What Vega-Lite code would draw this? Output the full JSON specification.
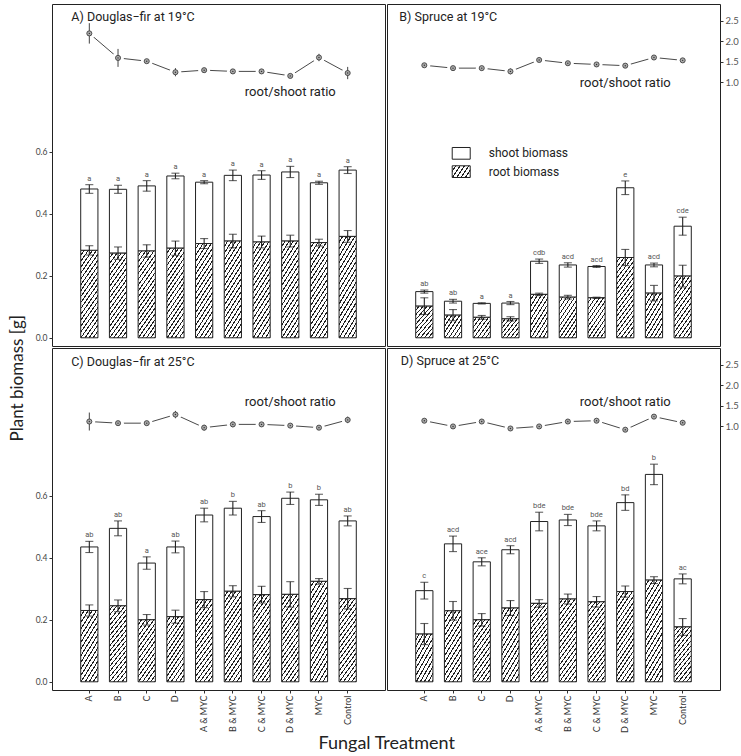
{
"$schema": "https://vega.github.io/schema/vega-lite/v6.json",
"padding": {"left": 8, "top": 3, "right": 0, "bottom": 0},
"title": {"text": "Plant biomass [g]", "orient": "left", "anchor": "middle", "fontSize": 17, "fontWeight": "normal", "color": "#222", "offset": 8},
"datasets": {
"bio": [
{"panel":"A","trt":"A","root":0.282,"root_se":0.015,"total":0.480,"total_se":0.014,"ratio":2.19,"ratio_se":0.25,"letter":"a"},
{"panel":"A","trt":"B","root":0.273,"root_se":0.020,"total":0.479,"total_se":0.013,"ratio":1.59,"ratio_se":0.22,"letter":"a"},
{"panel":"A","trt":"C","root":0.280,"root_se":0.020,"total":0.490,"total_se":0.017,"ratio":1.51,"ratio_se":0.03,"letter":"a"},
{"panel":"A","trt":"D","root":0.289,"root_se":0.023,"total":0.522,"total_se":0.009,"ratio":1.24,"ratio_se":0.10,"letter":"a"},
{"panel":"A","trt":"A & MYC","root":0.304,"root_se":0.016,"total":0.502,"total_se":0.005,"ratio":1.29,"ratio_se":0.03,"letter":"a"},
{"panel":"A","trt":"B & MYC","root":0.312,"root_se":0.022,"total":0.524,"total_se":0.017,"ratio":1.26,"ratio_se":0.03,"letter":"a"},
{"panel":"A","trt":"C & MYC","root":0.309,"root_se":0.019,"total":0.525,"total_se":0.014,"ratio":1.26,"ratio_se":0.03,"letter":"a"},
{"panel":"A","trt":"D & MYC","root":0.312,"root_se":0.019,"total":0.535,"total_se":0.018,"ratio":1.15,"ratio_se":0.04,"letter":"a"},
{"panel":"A","trt":"MYC","root":0.307,"root_se":0.011,"total":0.500,"total_se":0.005,"ratio":1.60,"ratio_se":0.09,"letter":"a"},
{"panel":"A","trt":"Control","root":0.327,"root_se":0.019,"total":0.541,"total_se":0.011,"ratio":1.22,"ratio_se":0.15,"letter":"a"},
{"panel":"B","trt":"A","root":0.102,"root_se":0.027,"total":0.149,"total_se":0.005,"ratio":1.41,"ratio_se":0.04,"letter":"ab"},
{"panel":"B","trt":"B","root":0.073,"root_se":0.018,"total":0.118,"total_se":0.006,"ratio":1.34,"ratio_se":0.05,"letter":"ab"},
{"panel":"B","trt":"C","root":0.066,"root_se":0.006,"total":0.111,"total_se":0.002,"ratio":1.34,"ratio_se":0.05,"letter":"a"},
{"panel":"B","trt":"D","root":0.061,"root_se":0.007,"total":0.112,"total_se":0.005,"ratio":1.26,"ratio_se":0.07,"letter":"a"},
{"panel":"B","trt":"A & MYC","root":0.140,"root_se":0.004,"total":0.247,"total_se":0.007,"ratio":1.54,"ratio_se":0.05,"letter":"cdb"},
{"panel":"B","trt":"B & MYC","root":0.131,"root_se":0.006,"total":0.235,"total_se":0.007,"ratio":1.46,"ratio_se":0.04,"letter":"acd"},
{"panel":"B","trt":"C & MYC","root":0.129,"root_se":0.002,"total":0.230,"total_se":0.003,"ratio":1.43,"ratio_se":0.04,"letter":"acd"},
{"panel":"B","trt":"D & MYC","root":0.259,"root_se":0.026,"total":0.484,"total_se":0.022,"ratio":1.40,"ratio_se":0.04,"letter":"e"},
{"panel":"B","trt":"MYC","root":0.144,"root_se":0.025,"total":0.235,"total_se":0.006,"ratio":1.60,"ratio_se":0.05,"letter":"acd"},
{"panel":"B","trt":"Control","root":0.199,"root_se":0.035,"total":0.360,"total_se":0.029,"ratio":1.53,"ratio_se":0.04,"letter":"cde"},
{"panel":"C","trt":"A","root":0.230,"root_se":0.018,"total":0.435,"total_se":0.018,"ratio":1.11,"ratio_se":0.22,"letter":"ab"},
{"panel":"C","trt":"B","root":0.245,"root_se":0.019,"total":0.495,"total_se":0.024,"ratio":1.07,"ratio_se":0.05,"letter":"ab"},
{"panel":"C","trt":"C","root":0.200,"root_se":0.017,"total":0.383,"total_se":0.020,"ratio":1.07,"ratio_se":0.04,"letter":"a"},
{"panel":"C","trt":"D","root":0.210,"root_se":0.021,"total":0.435,"total_se":0.019,"ratio":1.28,"ratio_se":0.09,"letter":"ab"},
{"panel":"C","trt":"A & MYC","root":0.265,"root_se":0.026,"total":0.538,"total_se":0.022,"ratio":0.96,"ratio_se":0.07,"letter":"ab"},
{"panel":"C","trt":"B & MYC","root":0.292,"root_se":0.018,"total":0.560,"total_se":0.022,"ratio":1.04,"ratio_se":0.07,"letter":"b"},
{"panel":"C","trt":"C & MYC","root":0.281,"root_se":0.027,"total":0.533,"total_se":0.019,"ratio":1.04,"ratio_se":0.05,"letter":"ab"},
{"panel":"C","trt":"D & MYC","root":0.282,"root_se":0.041,"total":0.592,"total_se":0.020,"ratio":1.01,"ratio_se":0.05,"letter":"b"},
{"panel":"C","trt":"MYC","root":0.324,"root_se":0.009,"total":0.587,"total_se":0.018,"ratio":0.96,"ratio_se":0.04,"letter":"b"},
{"panel":"C","trt":"Control","root":0.268,"root_se":0.033,"total":0.519,"total_se":0.016,"ratio":1.15,"ratio_se":0.08,"letter":"ab"},
{"panel":"D","trt":"A","root":0.154,"root_se":0.034,"total":0.294,"total_se":0.027,"ratio":1.13,"ratio_se":0.05,"letter":"c"},
{"panel":"D","trt":"B","root":0.229,"root_se":0.030,"total":0.445,"total_se":0.025,"ratio":0.99,"ratio_se":0.05,"letter":"acd"},
{"panel":"D","trt":"C","root":0.200,"root_se":0.020,"total":0.387,"total_se":0.013,"ratio":1.11,"ratio_se":0.06,"letter":"ace"},
{"panel":"D","trt":"D","root":0.238,"root_se":0.024,"total":0.426,"total_se":0.013,"ratio":0.94,"ratio_se":0.05,"letter":"acd"},
{"panel":"D","trt":"A & MYC","root":0.253,"root_se":0.012,"total":0.517,"total_se":0.030,"ratio":0.99,"ratio_se":0.05,"letter":"bde"},
{"panel":"D","trt":"B & MYC","root":0.267,"root_se":0.016,"total":0.522,"total_se":0.018,"ratio":1.11,"ratio_se":0.05,"letter":"bde"},
{"panel":"D","trt":"C & MYC","root":0.258,"root_se":0.017,"total":0.503,"total_se":0.016,"ratio":1.13,"ratio_se":0.05,"letter":"bde"},
{"panel":"D","trt":"D & MYC","root":0.291,"root_se":0.018,"total":0.578,"total_se":0.025,"ratio":0.91,"ratio_se":0.05,"letter":"bd"},
{"panel":"D","trt":"MYC","root":0.328,"root_se":0.011,"total":0.669,"total_se":0.033,"ratio":1.23,"ratio_se":0.05,"letter":"b"},
{"panel":"D","trt":"Control","root":0.177,"root_se":0.027,"total":0.332,"total_se":0.016,"ratio":1.08,"ratio_se":0.05,"letter":"ac"}
]
},
"config": {
"font": "Lato",
"view": {"stroke": "#222", "strokeWidth": 1},
"text": {"font": "Roboto", "fontWeight": "normal"},
"axis": {"labelColor": "#444", "tickColor": "#333", "labelFontSize": 9, "grid": false, "domain": false, "tickSize": 3},
"style": {
"h1": {"color": {"gradient":"linear","x1":0,"y1":0,"x2":1.069,"y2":0.92,"stops":[
{"offset":0,"color":"#fff"},{"offset":0.0875,"color":"#fff"},{"offset":0.0875,"color":"#222"},{"offset":0.125,"color":"#222"},
{"offset":0.125,"color":"#fff"},{"offset":0.2125,"color":"#fff"},{"offset":0.2125,"color":"#222"},{"offset":0.25,"color":"#222"},
{"offset":0.25,"color":"#fff"},{"offset":0.3375,"color":"#fff"},{"offset":0.3375,"color":"#222"},{"offset":0.375,"color":"#222"},
{"offset":0.375,"color":"#fff"},{"offset":0.4625,"color":"#fff"},{"offset":0.4625,"color":"#222"},{"offset":0.5,"color":"#222"},
{"offset":0.5,"color":"#fff"},{"offset":0.5875,"color":"#fff"},{"offset":0.5875,"color":"#222"},{"offset":0.625,"color":"#222"},
{"offset":0.625,"color":"#fff"},{"offset":0.7125,"color":"#fff"},{"offset":0.7125,"color":"#222"},{"offset":0.75,"color":"#222"},
{"offset":0.75,"color":"#fff"},{"offset":0.8375,"color":"#fff"},{"offset":0.8375,"color":"#222"},{"offset":0.875,"color":"#222"},
{"offset":0.875,"color":"#fff"},{"offset":0.9625,"color":"#fff"},{"offset":0.9625,"color":"#222"},{"offset":1,"color":"#222"}]}},
"h2": {"color": {"gradient":"linear","x1":0,"y1":0,"x2":0.742,"y2":1.164,"stops":[
{"offset":0,"color":"#fff"},{"offset":0.0636,"color":"#fff"},{"offset":0.0636,"color":"#222"},{"offset":0.0909,"color":"#222"},
{"offset":0.0909,"color":"#fff"},{"offset":0.1545,"color":"#fff"},{"offset":0.1545,"color":"#222"},{"offset":0.1818,"color":"#222"},
{"offset":0.1818,"color":"#fff"},{"offset":0.2455,"color":"#fff"},{"offset":0.2455,"color":"#222"},{"offset":0.2727,"color":"#222"},
{"offset":0.2727,"color":"#fff"},{"offset":0.3364,"color":"#fff"},{"offset":0.3364,"color":"#222"},{"offset":0.3636,"color":"#222"},
{"offset":0.3636,"color":"#fff"},{"offset":0.4273,"color":"#fff"},{"offset":0.4273,"color":"#222"},{"offset":0.4545,"color":"#222"},
{"offset":0.4545,"color":"#fff"},{"offset":0.5182,"color":"#fff"},{"offset":0.5182,"color":"#222"},{"offset":0.5455,"color":"#222"},
{"offset":0.5455,"color":"#fff"},{"offset":0.6091,"color":"#fff"},{"offset":0.6091,"color":"#222"},{"offset":0.6364,"color":"#222"},
{"offset":0.6364,"color":"#fff"},{"offset":0.7,"color":"#fff"},{"offset":0.7,"color":"#222"},{"offset":0.7273,"color":"#222"},
{"offset":0.7273,"color":"#fff"},{"offset":0.7909,"color":"#fff"},{"offset":0.7909,"color":"#222"},{"offset":0.8182,"color":"#222"},
{"offset":0.8182,"color":"#fff"},{"offset":0.8818,"color":"#fff"},{"offset":0.8818,"color":"#222"},{"offset":0.9091,"color":"#222"},
{"offset":0.9091,"color":"#fff"},{"offset":0.9727,"color":"#fff"},{"offset":0.9727,"color":"#222"},{"offset":1,"color":"#222"}]}},
"h3": {"color": {"gradient":"linear","x1":0,"y1":0,"x2":0.473,"y2":1.207,"stops":[
{"offset":0,"color":"#fff"},{"offset":0.0467,"color":"#fff"},{"offset":0.0467,"color":"#222"},{"offset":0.0667,"color":"#222"},
{"offset":0.0667,"color":"#fff"},{"offset":0.1133,"color":"#fff"},{"offset":0.1133,"color":"#222"},{"offset":0.1333,"color":"#222"},
{"offset":0.1333,"color":"#fff"},{"offset":0.18,"color":"#fff"},{"offset":0.18,"color":"#222"},{"offset":0.2,"color":"#222"},
{"offset":0.2,"color":"#fff"},{"offset":0.2467,"color":"#fff"},{"offset":0.2467,"color":"#222"},{"offset":0.2667,"color":"#222"},
{"offset":0.2667,"color":"#fff"},{"offset":0.3133,"color":"#fff"},{"offset":0.3133,"color":"#222"},{"offset":0.3333,"color":"#222"},
{"offset":0.3333,"color":"#fff"},{"offset":0.38,"color":"#fff"},{"offset":0.38,"color":"#222"},{"offset":0.4,"color":"#222"},
{"offset":0.4,"color":"#fff"},{"offset":0.4467,"color":"#fff"},{"offset":0.4467,"color":"#222"},{"offset":0.4667,"color":"#222"},
{"offset":0.4667,"color":"#fff"},{"offset":0.5133,"color":"#fff"},{"offset":0.5133,"color":"#222"},{"offset":0.5333,"color":"#222"},
{"offset":0.5333,"color":"#fff"},{"offset":0.58,"color":"#fff"},{"offset":0.58,"color":"#222"},{"offset":0.6,"color":"#222"},
{"offset":0.6,"color":"#fff"},{"offset":0.6467,"color":"#fff"},{"offset":0.6467,"color":"#222"},{"offset":0.6667,"color":"#222"},
{"offset":0.6667,"color":"#fff"},{"offset":0.7133,"color":"#fff"},{"offset":0.7133,"color":"#222"},{"offset":0.7333,"color":"#222"},
{"offset":0.7333,"color":"#fff"},{"offset":0.78,"color":"#fff"},{"offset":0.78,"color":"#222"},{"offset":0.8,"color":"#222"},
{"offset":0.8,"color":"#fff"},{"offset":0.8467,"color":"#fff"},{"offset":0.8467,"color":"#222"},{"offset":0.8667,"color":"#222"},
{"offset":0.8667,"color":"#fff"},{"offset":0.9133,"color":"#fff"},{"offset":0.9133,"color":"#222"},{"offset":0.9333,"color":"#222"},
{"offset":0.9333,"color":"#fff"},{"offset":0.98,"color":"#fff"},{"offset":0.98,"color":"#222"},{"offset":1,"color":"#222"}]}},
"h4": {"color": {"gradient":"linear","x1":0,"y1":0,"x2":0.337,"y2":1.188,"stops":[
{"offset":0,"color":"#fff"},{"offset":0.0368,"color":"#fff"},{"offset":0.0368,"color":"#222"},{"offset":0.0526,"color":"#222"},
{"offset":0.0526,"color":"#fff"},{"offset":0.0895,"color":"#fff"},{"offset":0.0895,"color":"#222"},{"offset":0.1053,"color":"#222"},
{"offset":0.1053,"color":"#fff"},{"offset":0.1421,"color":"#fff"},{"offset":0.1421,"color":"#222"},{"offset":0.1579,"color":"#222"},
{"offset":0.1579,"color":"#fff"},{"offset":0.1947,"color":"#fff"},{"offset":0.1947,"color":"#222"},{"offset":0.2105,"color":"#222"},
{"offset":0.2105,"color":"#fff"},{"offset":0.2474,"color":"#fff"},{"offset":0.2474,"color":"#222"},{"offset":0.2632,"color":"#222"},
{"offset":0.2632,"color":"#fff"},{"offset":0.3,"color":"#fff"},{"offset":0.3,"color":"#222"},{"offset":0.3158,"color":"#222"},
{"offset":0.3158,"color":"#fff"},{"offset":0.3526,"color":"#fff"},{"offset":0.3526,"color":"#222"},{"offset":0.3684,"color":"#222"},
{"offset":0.3684,"color":"#fff"},{"offset":0.4053,"color":"#fff"},{"offset":0.4053,"color":"#222"},{"offset":0.4211,"color":"#222"},
{"offset":0.4211,"color":"#fff"},{"offset":0.4579,"color":"#fff"},{"offset":0.4579,"color":"#222"},{"offset":0.4737,"color":"#222"},
{"offset":0.4737,"color":"#fff"},{"offset":0.5105,"color":"#fff"},{"offset":0.5105,"color":"#222"},{"offset":0.5263,"color":"#222"},
{"offset":0.5263,"color":"#fff"},{"offset":0.5632,"color":"#fff"},{"offset":0.5632,"color":"#222"},{"offset":0.5789,"color":"#222"},
{"offset":0.5789,"color":"#fff"},{"offset":0.6158,"color":"#fff"},{"offset":0.6158,"color":"#222"},{"offset":0.6316,"color":"#222"},
{"offset":0.6316,"color":"#fff"},{"offset":0.6684,"color":"#fff"},{"offset":0.6684,"color":"#222"},{"offset":0.6842,"color":"#222"},
{"offset":0.6842,"color":"#fff"},{"offset":0.7211,"color":"#fff"},{"offset":0.7211,"color":"#222"},{"offset":0.7368,"color":"#222"},
{"offset":0.7368,"color":"#fff"},{"offset":0.7737,"color":"#fff"},{"offset":0.7737,"color":"#222"},{"offset":0.7895,"color":"#222"},
{"offset":0.7895,"color":"#fff"},{"offset":0.8263,"color":"#fff"},{"offset":0.8263,"color":"#222"},{"offset":0.8421,"color":"#222"},
{"offset":0.8421,"color":"#fff"},{"offset":0.8789,"color":"#fff"},{"offset":0.8789,"color":"#222"},{"offset":0.8947,"color":"#222"},
{"offset":0.8947,"color":"#fff"},{"offset":0.9316,"color":"#fff"},{"offset":0.9316,"color":"#222"},{"offset":0.9474,"color":"#222"},
{"offset":0.9474,"color":"#fff"},{"offset":0.9842,"color":"#fff"},{"offset":0.9842,"color":"#222"},{"offset":1,"color":"#222"}]}}
}
},
"spacing": 0,
"vconcat": [
{"spacing": 0, "hconcat": [
{
"width": 333, "height": 342,
"data": {"name": "bio"},
"transform": [{"filter": "datum.panel === 'A'"}],
"encoding": {"x": {"field": "trt", "type": "nominal", "scale": {"domain": ["A","B","C","D","A & MYC","B & MYC","C & MYC","D & MYC","MYC","Control"], "paddingInner": 0.4, "paddingOuter": 1.16}, "axis": null}},
"layer": [
{"layer": [
{"mark": {"type": "bar", "fill": "#fff", "stroke": "#222", "strokeWidth": 1}, "encoding": {"y": {"field": "total", "type": "quantitative", "scale": {"domain": [-0.0265, 1.0768], "nice": false, "zero": false}, "axis": {"values": [0, 0.2, 0.4, 0.6], "format": ".1f", "title": null, "labelFontSize": 8.5}}, "y2": {"field": "root"}}},
{"encoding": {"y": {"field": "root", "type": "quantitative"}}, "layer": [
{"transform": [{"filter": "datum.root < 0.09"}], "mark": {"type": "bar", "style": "h1", "stroke": "#222", "strokeWidth": 1}},
{"transform": [{"filter": "datum.root >= 0.09 && datum.root < 0.17"}], "mark": {"type": "bar", "style": "h2", "stroke": "#222", "strokeWidth": 1}},
{"transform": [{"filter": "datum.root >= 0.17 && datum.root < 0.245"}], "mark": {"type": "bar", "style": "h3", "stroke": "#222", "strokeWidth": 1}},
{"transform": [{"filter": "datum.root >= 0.245"}], "mark": {"type": "bar", "style": "h4", "stroke": "#222", "strokeWidth": 1}}
]},
{"mark": {"type": "errorbar", "ticks": {"size": 8}, "color": "#222", "thickness": 1.1}, "encoding": {"y": {"field": "root", "type": "quantitative"}, "yError": {"field": "root_se"}}},
{"mark": {"type": "errorbar", "ticks": {"size": 8}, "color": "#222", "thickness": 1.1}, "encoding": {"y": {"field": "total", "type": "quantitative"}, "yError": {"field": "total_se"}}},
{"transform": [{"calculate": "datum.total + datum.total_se", "as": "top"}], "mark": {"type": "text", "fontSize": 7.5, "color": "#555", "baseline": "alphabetic", "dy": -4}, "encoding": {"y": {"field": "top", "type": "quantitative"}, "text": {"field": "letter"}}},
{"data": {"values": [{"panel": "A"}]}, "mark": {"type": "text", "text": "A) Douglas−fir at 19°C", "align": "left", "baseline": "middle", "dx": -18, "fontSize": 12.5, "color": "#222"}, "encoding": {"x": {"datum": "A"}, "y": {"datum": 1.036}}}
]},
{"layer": [
{"mark": {"type": "line", "color": "#333", "strokeWidth": 0.9}, "encoding": {"y": {"field": "ratio", "type": "quantitative", "scale": {"domain": [-5.459, 2.909], "nice": false, "zero": false}, "axis": null}, "order": {"value": null}}},
{"mark": {"type": "point", "shape": "circle", "filled": true, "color": "#fff", "opacity": 1, "size": 140}, "encoding": {"y": {"field": "ratio", "type": "quantitative"}}},
{"mark": {"type": "errorbar", "color": "#444", "thickness": 1}, "encoding": {"y": {"field": "ratio", "type": "quantitative"}, "yError": {"field": "ratio_se"}}},
{"mark": {"type": "point", "shape": "circle", "filled": true, "fill": "#aaa", "stroke": "#333", "strokeWidth": 0.8, "opacity": 1, "size": 26}, "encoding": {"y": {"field": "ratio", "type": "quantitative"}}},
{"mark": {"type": "point", "shape": "circle", "filled": true, "fill": "#333", "opacity": 1, "size": 2}, "encoding": {"y": {"field": "ratio", "type": "quantitative"}}},
{"data": {"values": [{"panel": "A"}]}, "mark": {"type": "text", "text": "root/shoot ratio", "fontSize": 13, "baseline": "middle", "align": "center", "color": "#222"}, "encoding": {"x": {"datum": "D & MYC"}, "y": {"datum": 0.76}}}
]}
],
"resolve": {"scale": {"y": "independent"}}
},
{
"width": 333, "height": 342,
"data": {"name": "bio"},
"transform": [{"filter": "datum.panel === 'B'"}],
"encoding": {"x": {"field": "trt", "type": "nominal", "scale": {"domain": ["A","B","C","D","A & MYC","B & MYC","C & MYC","D & MYC","MYC","Control"], "paddingInner": 0.4, "paddingOuter": 1.16}, "axis": null}},
"layer": [
{"layer": [
{"mark": {"type": "bar", "fill": "#fff", "stroke": "#222", "strokeWidth": 1}, "encoding": {"y": {"field": "total", "type": "quantitative", "scale": {"domain": [-0.0265, 1.0768], "nice": false, "zero": false}, "axis": null}, "y2": {"field": "root"}}},
{"encoding": {"y": {"field": "root", "type": "quantitative"}}, "layer": [
{"transform": [{"filter": "datum.root < 0.09"}], "mark": {"type": "bar", "style": "h1", "stroke": "#222", "strokeWidth": 1}},
{"transform": [{"filter": "datum.root >= 0.09 && datum.root < 0.17"}], "mark": {"type": "bar", "style": "h2", "stroke": "#222", "strokeWidth": 1}},
{"transform": [{"filter": "datum.root >= 0.17 && datum.root < 0.245"}], "mark": {"type": "bar", "style": "h3", "stroke": "#222", "strokeWidth": 1}},
{"transform": [{"filter": "datum.root >= 0.245"}], "mark": {"type": "bar", "style": "h4", "stroke": "#222", "strokeWidth": 1}}
]},
{"mark": {"type": "errorbar", "ticks": {"size": 8}, "color": "#222", "thickness": 1.1}, "encoding": {"y": {"field": "root", "type": "quantitative"}, "yError": {"field": "root_se"}}},
{"mark": {"type": "errorbar", "ticks": {"size": 8}, "color": "#222", "thickness": 1.1}, "encoding": {"y": {"field": "total", "type": "quantitative"}, "yError": {"field": "total_se"}}},
{"transform": [{"calculate": "datum.total + datum.total_se", "as": "top"}], "mark": {"type": "text", "fontSize": 7.5, "color": "#555", "baseline": "alphabetic", "dy": -4}, "encoding": {"y": {"field": "top", "type": "quantitative"}, "text": {"field": "letter"}}},
{"data": {"values": [{"panel": "B"}]}, "mark": {"type": "text", "text": "B) Spruce at 19°C", "align": "left", "baseline": "middle", "dx": -25, "fontSize": 12.5, "color": "#222"}, "encoding": {"x": {"datum": "A"}, "y": {"datum": 1.036}}},
{"data": {"values": [{"panel": "B"}]}, "mark": {"type": "point", "shape": "M-0.09,-0.65H1.91V0.65H-0.09Z", "filled": true, "fill": "#fff", "stroke": "#222", "strokeWidth": 1, "opacity": 1, "size": 324}, "encoding": {"x": {"datum": "B"}, "y": {"datum": 0.595}}},
{"data": {"values": [{"panel": "B"}]}, "mark": {"type": "point", "shape": "M-0.09,-0.65H1.91V0.65H-0.09Z", "filled": true, "stroke": "#222", "strokeWidth": 1, "opacity": 1, "size": 324, "fill": {"gradient":"linear","x1":0,"y1":0,"x2":1.207,"y2":0.519,"stops":[
{"offset":0,"color":"#fff"},{"offset":0.1167,"color":"#fff"},{"offset":0.1167,"color":"#222"},{"offset":0.1667,"color":"#222"},
{"offset":0.1667,"color":"#fff"},{"offset":0.2833,"color":"#fff"},{"offset":0.2833,"color":"#222"},{"offset":0.3333,"color":"#222"},
{"offset":0.3333,"color":"#fff"},{"offset":0.45,"color":"#fff"},{"offset":0.45,"color":"#222"},{"offset":0.5,"color":"#222"},
{"offset":0.5,"color":"#fff"},{"offset":0.6167,"color":"#fff"},{"offset":0.6167,"color":"#222"},{"offset":0.6667,"color":"#222"},
{"offset":0.6667,"color":"#fff"},{"offset":0.7833,"color":"#fff"},{"offset":0.7833,"color":"#222"},{"offset":0.8333,"color":"#222"},
{"offset":0.8333,"color":"#fff"},{"offset":0.95,"color":"#fff"},{"offset":0.95,"color":"#222"},{"offset":1,"color":"#222"}]}}, "encoding": {"x": {"datum": "B"}, "y": {"datum": 0.536}}},
{"data": {"values": [{"panel": "B"}]}, "mark": {"type": "text", "text": "shoot biomass", "align": "left", "baseline": "middle", "dx": 7, "fontSize": 12, "color": "#222"}, "encoding": {"x": {"datum": "C"}, "y": {"datum": 0.595}}},
{"data": {"values": [{"panel": "B"}]}, "mark": {"type": "text", "text": "root biomass", "align": "left", "baseline": "middle", "dx": 7, "fontSize": 12, "color": "#222"}, "encoding": {"x": {"datum": "C"}, "y": {"datum": 0.536}}}
]},
{"layer": [
{"mark": {"type": "line", "color": "#333", "strokeWidth": 0.9}, "encoding": {"y": {"field": "ratio", "type": "quantitative", "scale": {"domain": [-5.459, 2.909], "nice": false, "zero": false}, "axis": {"orient": "right", "values": [1, 1.5, 2, 2.5], "format": ".1f", "title": null, "labelFontSize": 9.5, "labelColor": "#555"}}, "order": {"value": null}}},
{"mark": {"type": "point", "shape": "circle", "filled": true, "color": "#fff", "opacity": 1, "size": 140}, "encoding": {"y": {"field": "ratio", "type": "quantitative"}}},
{"mark": {"type": "errorbar", "color": "#444", "thickness": 1}, "encoding": {"y": {"field": "ratio", "type": "quantitative"}, "yError": {"field": "ratio_se"}}},
{"mark": {"type": "point", "shape": "circle", "filled": true, "fill": "#aaa", "stroke": "#333", "strokeWidth": 0.8, "opacity": 1, "size": 26}, "encoding": {"y": {"field": "ratio", "type": "quantitative"}}},
{"mark": {"type": "point", "shape": "circle", "filled": true, "fill": "#333", "opacity": 1, "size": 2}, "encoding": {"y": {"field": "ratio", "type": "quantitative"}}},
{"data": {"values": [{"panel": "B"}]}, "mark": {"type": "text", "text": "root/shoot ratio", "fontSize": 13, "baseline": "middle", "align": "center", "color": "#222"}, "encoding": {"x": {"datum": "D & MYC"}, "y": {"datum": 0.98}}}
]}
],
"resolve": {"scale": {"y": "independent"}}
}
]},
{"spacing": 0, "title": {"text": "Fungal Treatment", "orient": "bottom", "anchor": "middle", "fontSize": 18, "fontWeight": "normal", "color": "#222", "offset": 2}, "hconcat": [
{
"width": 333, "height": 342,
"data": {"name": "bio"},
"transform": [{"filter": "datum.panel === 'C'"}],
"encoding": {"x": {"field": "trt", "type": "nominal", "scale": {"domain": ["A","B","C","D","A & MYC","B & MYC","C & MYC","D & MYC","MYC","Control"], "paddingInner": 0.4, "paddingOuter": 1.16}, "axis": {"title": null, "labelAngle": -90, "labelFontSize": 9, "labelColor": "#333", "tickSize": 3, "labelPadding": 2}}},
"layer": [
{"layer": [
{"mark": {"type": "bar", "fill": "#fff", "stroke": "#222", "strokeWidth": 1}, "encoding": {"y": {"field": "total", "type": "quantitative", "scale": {"domain": [-0.0265, 1.0768], "nice": false, "zero": false}, "axis": {"values": [0, 0.2, 0.4, 0.6], "format": ".1f", "title": null, "labelFontSize": 8.5}}, "y2": {"field": "root"}}},
{"encoding": {"y": {"field": "root", "type": "quantitative"}}, "layer": [
{"transform": [{"filter": "datum.root < 0.09"}], "mark": {"type": "bar", "style": "h1", "stroke": "#222", "strokeWidth": 1}},
{"transform": [{"filter": "datum.root >= 0.09 && datum.root < 0.17"}], "mark": {"type": "bar", "style": "h2", "stroke": "#222", "strokeWidth": 1}},
{"transform": [{"filter": "datum.root >= 0.17 && datum.root < 0.245"}], "mark": {"type": "bar", "style": "h3", "stroke": "#222", "strokeWidth": 1}},
{"transform": [{"filter": "datum.root >= 0.245"}], "mark": {"type": "bar", "style": "h4", "stroke": "#222", "strokeWidth": 1}}
]},
{"mark": {"type": "errorbar", "ticks": {"size": 8}, "color": "#222", "thickness": 1.1}, "encoding": {"y": {"field": "root", "type": "quantitative"}, "yError": {"field": "root_se"}}},
{"mark": {"type": "errorbar", "ticks": {"size": 8}, "color": "#222", "thickness": 1.1}, "encoding": {"y": {"field": "total", "type": "quantitative"}, "yError": {"field": "total_se"}}},
{"transform": [{"calculate": "datum.total + datum.total_se", "as": "top"}], "mark": {"type": "text", "fontSize": 7.5, "color": "#555", "baseline": "alphabetic", "dy": -4}, "encoding": {"y": {"field": "top", "type": "quantitative"}, "text": {"field": "letter"}}},
{"data": {"values": [{"panel": "C"}]}, "mark": {"type": "text", "text": "C) Douglas−fir at 25°C", "align": "left", "baseline": "middle", "dx": -18, "fontSize": 12.5, "color": "#222"}, "encoding": {"x": {"datum": "A"}, "y": {"datum": 1.033}}}
]},
{"layer": [
{"mark": {"type": "line", "color": "#333", "strokeWidth": 0.9}, "encoding": {"y": {"field": "ratio", "type": "quantitative", "scale": {"domain": [-5.459, 2.909], "nice": false, "zero": false}, "axis": null}, "order": {"value": null}}},
{"mark": {"type": "point", "shape": "circle", "filled": true, "color": "#fff", "opacity": 1, "size": 140}, "encoding": {"y": {"field": "ratio", "type": "quantitative"}}},
{"mark": {"type": "errorbar", "color": "#444", "thickness": 1}, "encoding": {"y": {"field": "ratio", "type": "quantitative"}, "yError": {"field": "ratio_se"}}},
{"mark": {"type": "point", "shape": "circle", "filled": true, "fill": "#aaa", "stroke": "#333", "strokeWidth": 0.8, "opacity": 1, "size": 26}, "encoding": {"y": {"field": "ratio", "type": "quantitative"}}},
{"mark": {"type": "point", "shape": "circle", "filled": true, "fill": "#333", "opacity": 1, "size": 2}, "encoding": {"y": {"field": "ratio", "type": "quantitative"}}},
{"data": {"values": [{"panel": "C"}]}, "mark": {"type": "text", "text": "root/shoot ratio", "fontSize": 13, "baseline": "middle", "align": "center", "color": "#222"}, "encoding": {"x": {"datum": "D & MYC"}, "y": {"datum": 1.59}}}
]}
],
"resolve": {"scale": {"y": "independent"}}
},
{
"width": 333, "height": 342,
"data": {"name": "bio"},
"transform": [{"filter": "datum.panel === 'D'"}],
"encoding": {"x": {"field": "trt", "type": "nominal", "scale": {"domain": ["A","B","C","D","A & MYC","B & MYC","C & MYC","D & MYC","MYC","Control"], "paddingInner": 0.4, "paddingOuter": 1.16}, "axis": {"title": null, "labelAngle": -90, "labelFontSize": 9, "labelColor": "#333", "tickSize": 3, "labelPadding": 2}}},
"layer": [
{"layer": [
{"mark": {"type": "bar", "fill": "#fff", "stroke": "#222", "strokeWidth": 1}, "encoding": {"y": {"field": "total", "type": "quantitative", "scale": {"domain": [-0.0265, 1.0768], "nice": false, "zero": false}, "axis": null}, "y2": {"field": "root"}}},
{"encoding": {"y": {"field": "root", "type": "quantitative"}}, "layer": [
{"transform": [{"filter": "datum.root < 0.09"}], "mark": {"type": "bar", "style": "h1", "stroke": "#222", "strokeWidth": 1}},
{"transform": [{"filter": "datum.root >= 0.09 && datum.root < 0.17"}], "mark": {"type": "bar", "style": "h2", "stroke": "#222", "strokeWidth": 1}},
{"transform": [{"filter": "datum.root >= 0.17 && datum.root < 0.245"}], "mark": {"type": "bar", "style": "h3", "stroke": "#222", "strokeWidth": 1}},
{"transform": [{"filter": "datum.root >= 0.245"}], "mark": {"type": "bar", "style": "h4", "stroke": "#222", "strokeWidth": 1}}
]},
{"mark": {"type": "errorbar", "ticks": {"size": 8}, "color": "#222", "thickness": 1.1}, "encoding": {"y": {"field": "root", "type": "quantitative"}, "yError": {"field": "root_se"}}},
{"mark": {"type": "errorbar", "ticks": {"size": 8}, "color": "#222", "thickness": 1.1}, "encoding": {"y": {"field": "total", "type": "quantitative"}, "yError": {"field": "total_se"}}},
{"transform": [{"calculate": "datum.total + datum.total_se", "as": "top"}], "mark": {"type": "text", "fontSize": 7.5, "color": "#555", "baseline": "alphabetic", "dy": -4}, "encoding": {"y": {"field": "top", "type": "quantitative"}, "text": {"field": "letter"}}},
{"data": {"values": [{"panel": "D"}]}, "mark": {"type": "text", "text": "D) Spruce at 25°C", "align": "left", "baseline": "middle", "dx": -23.5, "fontSize": 12.5, "color": "#222"}, "encoding": {"x": {"datum": "A"}, "y": {"datum": 1.036}}}
]},
{"layer": [
{"mark": {"type": "line", "color": "#333", "strokeWidth": 0.9}, "encoding": {"y": {"field": "ratio", "type": "quantitative", "scale": {"domain": [-5.459, 2.909], "nice": false, "zero": false}, "axis": {"orient": "right", "values": [1, 1.5, 2, 2.5], "format": ".1f", "title": null, "labelFontSize": 9.5, "labelColor": "#555"}}, "order": {"value": null}}},
{"mark": {"type": "point", "shape": "circle", "filled": true, "color": "#fff", "opacity": 1, "size": 140}, "encoding": {"y": {"field": "ratio", "type": "quantitative"}}},
{"mark": {"type": "errorbar", "color": "#444", "thickness": 1}, "encoding": {"y": {"field": "ratio", "type": "quantitative"}, "yError": {"field": "ratio_se"}}},
{"mark": {"type": "point", "shape": "circle", "filled": true, "fill": "#aaa", "stroke": "#333", "strokeWidth": 0.8, "opacity": 1, "size": 26}, "encoding": {"y": {"field": "ratio", "type": "quantitative"}}},
{"mark": {"type": "point", "shape": "circle", "filled": true, "fill": "#333", "opacity": 1, "size": 2}, "encoding": {"y": {"field": "ratio", "type": "quantitative"}}},
{"data": {"values": [{"panel": "D"}]}, "mark": {"type": "text", "text": "root/shoot ratio", "fontSize": 13, "baseline": "middle", "align": "center", "color": "#222"}, "encoding": {"x": {"datum": "D & MYC"}, "y": {"datum": 1.59}}}
]}
],
"resolve": {"scale": {"y": "independent"}}
}
]}
]
}
